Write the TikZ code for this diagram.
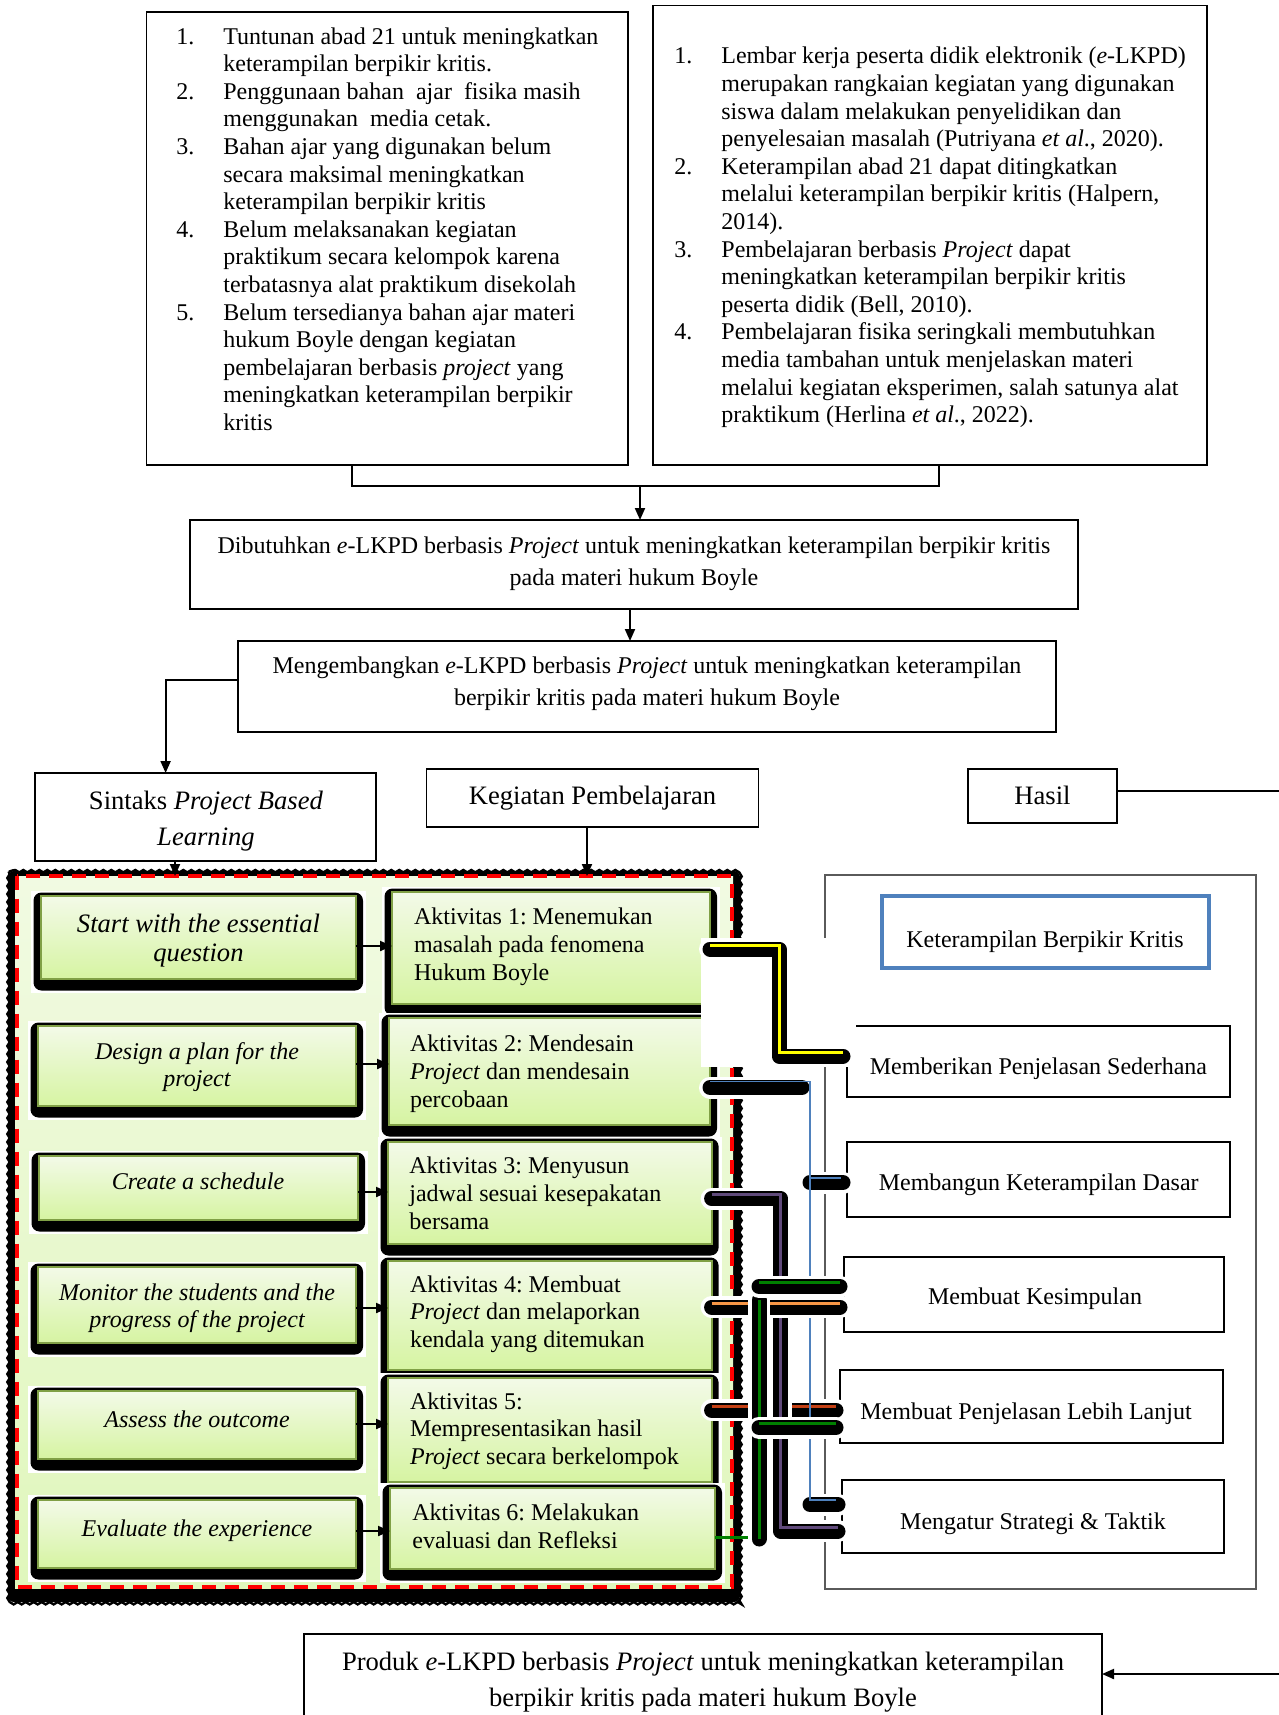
\documentclass[tikz,border=0pt]{standalone}
\usepackage{fontspec}
\setmainfont{Liberation Serif}
\usetikzlibrary{arrows.meta,decorations.pathmorphing}
\definecolor{gtop}{RGB}{243,250,232}
\definecolor{gbot}{RGB}{214,244,162}
\definecolor{gline}{RGB}{128,160,70}
\definecolor{rtop}{RGB}{241,250,226}
\definecolor{rbot}{RGB}{224,247,188}
\definecolor{kblue}{RGB}{79,129,189}
\definecolor{cyel}{RGB}{255,255,0}
\definecolor{cblue}{RGB}{79,129,189}
\definecolor{cpur}{RGB}{96,74,123}
\definecolor{cora}{RGB}{247,150,70}
\definecolor{cred}{RGB}{196,64,20}
\definecolor{cgrn}{RGB}{0,128,0}
\definecolor{hgray}{RGB}{90,90,90}

\newcommand\mkbox[6][]{\node[inner sep=0pt, outer sep=0pt, minimum width={(#5-#3)*0.5pt}, minimum height={(#6-#4)*0.5pt}, #1] (#2) at ({(#3+#5)/2},{(#4+#6)/2}) {};}
\newcommand\txl[6][]{\foreach \lntxt [count=\lnk from 0] in {#6} {\node[tx, anchor=base west, #1] (#2\lnk) at (#3,{#4+#5*\lnk}) {\lntxt};}}
\newcommand\gbox[5]{%
  \fill[white] ({#2-10},{#3-5}) rectangle ({#4+10},{#5+14});
  \fill[black, rounded corners=4pt] ({#2-7.5},{#3-3.5}) rectangle ({#4+7},{#5+11.5});
  \mkbox[gfill]{#1}{#2}{#3}{#4}{#5}}

\begin{document}
\frenchspacing
\begin{tikzpicture}[x=0.5pt,y=-0.5pt,
  tx/.style={font=\fontsize{12}{14}\selectfont, inner sep=0pt},
  tb/.style={font=\fontsize{13.3}{16}\selectfont, inner sep=0pt, anchor=base},
  ti/.style={font=\fontsize{12}{14}\selectfont\itshape, inner sep=0pt, anchor=base},
  bx/.style={draw=black, line width=0.8pt},
  arr/.style={line width=1pt, -{Triangle[length=6pt,width=5pt]}},
  ln/.style={line width=1pt},
  gfill/.style={draw=gline, line width=1pt, top color=gtop, bottom color=gbot},
  regbg/.style={top color=rtop, bottom color=rbot},
  blk/.style={line width=7.5pt, line cap=round, line join=round, draw=black, shorten >=2pt,
    preaction={draw=white, line width=11pt, line cap=round}},
  conn/.style={blk, postaction={draw=#1, line width=1.5pt, line cap=butt, line join=miter, transform canvas={yshift=1.8pt}}},
]
\clip (0,0) rectangle (1279,1715);
\fill[white] (0,0) rectangle (1279,1715);

% ---------- top boxes ----------
\mkbox[bx]{b1}{146.6}{12}{628}{465}
\mkbox[bx]{b2}{653}{5.5}{1207}{465}

\txl{tA}{223}{44}{27.6}{{Tuntunan abad 21 untuk meningkatkan},{keterampilan berpikir kritis.},{Penggunaan bahan\ \ ajar\ \ fisika masih},{menggunakan\ \ media cetak.},{Bahan ajar yang digunakan belum},{secara maksimal meningkatkan},{keterampilan berpikir kritis},{Belum melaksanakan kegiatan},{praktikum secara kelompok karena},{terbatasnya alat praktikum disekolah},{Belum tersedianya bahan ajar materi},{hukum Boyle dengan kegiatan},{pembelajaran berbasis \textit{project} yang},{meningkatkan keterampilan berpikir},{kritis}}
\node[tx, anchor=base west] (nA1) at (176,44) {1.};
\node[tx, anchor=base west] (nA2) at (176,99.2) {2.};
\node[tx, anchor=base west] (nA3) at (176,154.4) {3.};
\node[tx, anchor=base west] (nA4) at (176,237.2) {4.};
\node[tx, anchor=base west] (nA5) at (176,320) {5.};

\txl{tB}{721}{63.8}{27.6}{{Lembar kerja peserta didik elektronik (\textit{e}-LKPD)},{merupakan rangkaian kegiatan yang digunakan},{siswa dalam melakukan penyelidikan dan},{penyelesaian masalah (Putriyana \textit{et al}., 2020).},{Keterampilan abad 21 dapat ditingkatkan},{melalui keterampilan berpikir kritis (Halpern,},{2014).},{Pembelajaran berbasis \textit{Project} dapat},{meningkatkan keterampilan berpikir kritis},{peserta didik (Bell, 2010).},{Pembelajaran fisika seringkali membutuhkan},{media tambahan untuk menjelaskan materi},{melalui kegiatan eksperimen, salah satunya alat},{praktikum (Herlina \textit{et al}., 2022).}}
\node[tx, anchor=base west] (nB1) at (674,63.8) {1.};
\node[tx, anchor=base west] (nB2) at (674,174.2) {2.};
\node[tx, anchor=base west] (nB3) at (674,257) {3.};
\node[tx, anchor=base west] (nB4) at (674,339.8) {4.};

\coordinate (j1) at (352,486);
\coordinate (j2) at (939,486);
\coordinate (jm) at (640,486);
\draw[ln] (b1.south -| j1) -- (j1) -- (j2) -- (b2.south -| j2);

\mkbox[bx]{b3}{190}{520}{1078}{609}
\node[tx, anchor=base] (t3a) at (634,553) {Dibutuhkan \textit{e}-LKPD berbasis \textit{Project} untuk meningkatkan keterampilan berpikir kritis};
\node[tx, anchor=base] (t3b) at (634,585) {pada materi hukum Boyle};
\draw[arr] (jm) -- (jm |- b3.north);

\mkbox[bx]{b4}{238}{641}{1056}{732}
\node[tx, anchor=base] (t4a) at (647,673) {Mengembangkan \textit{e}-LKPD berbasis \textit{Project} untuk meningkatkan keterampilan};
\node[tx, anchor=base] (t4b) at (647,705) {berpikir kritis pada materi hukum Boyle};
\coordinate (k1) at (630,620);
\draw[arr] (b3.south -| k1) -- (k1 |- b4.north);

\mkbox[bx]{sint}{35}{773}{376}{861}
\node[tb] (ts1) at (206,809) {Sintaks \textit{Project Based}};
\node[tb] (ts2) at (206,845) {\textit{Learning}};
\coordinate (sa) at (165.6,680);
\draw[arr] (b4.west |- sa) -- (sa) -- (sa |- sint.north);

\mkbox[bx]{keg}{426.6}{769}{758.6}{827}
\node[tb] (tk) at (592.5,804) {Kegiatan Pembelajaran};
\mkbox[bx]{has}{968}{769}{1117}{823}
\node[tb] (th) at (1042.5,804) {Hasil};
\coordinate (hr) at (1279,791);
\draw[ln] (has.east |- hr) -- (hr);

% ---------- region ----------
\fill[black, rounded corners=3pt] (8,871) rectangle (740,1602);
\draw[black, line width=1.2pt, decorate, decoration={snake, amplitude=0.6pt, segment length=4pt}] (8.5,871.5) rectangle (739.5,1601.5);
\mkbox[regbg]{reg}{15}{876}{733}{1588}
\draw[red, line width=2pt, dash pattern=on 7pt off 4.5pt] (16.5,875.5) rectangle (731.5,1587);

\coordinate (sx) at (175,0);
\coordinate (kx) at (587,0);
\draw[arr] (sint.south -| sx) -- (sx |- reg.north);
\draw[arr] (keg.south -| kx) -- (kx |- reg.north);

% left syntax boxes
\gbox{L1}{41}{896}{356}{979}
\gbox{L2}{38}{1026}{356}{1106}
\gbox{L3}{39}{1156}{358}{1220}
\gbox{L4}{38}{1267}{356}{1343}
\gbox{L5}{38}{1391}{356}{1459}
\gbox{L6}{38}{1500}{356}{1568}
\node[ti, font=\fontsize{13.3}{15}\selectfont\itshape] (l1a) at (198.5,932) {Start with the essential};
\node[ti, font=\fontsize{13.3}{15}\selectfont\itshape] (l1b) at (198.5,961) {question};
\node[ti] (l2a) at (197,1059) {Design a plan for the};
\node[ti] (l2b) at (197,1086) {project};
\node[ti] (l3a) at (198,1189) {Create a schedule};
\node[ti] (l4a) at (197,1300) {Monitor the students and the};
\node[ti] (l4b) at (197,1327) {progress of the project};
\node[ti] (l5a) at (197,1427) {Assess the outcome};
\node[ti] (l6a) at (197,1536) {Evaluate the experience};

% right activity boxes
\gbox{R1}{392}{892}{710}{1004}
\gbox{R2}{389}{1018}{710}{1125}
\gbox{R3}{388}{1142}{711.6}{1244}
\gbox{R4}{388}{1261}{711.6}{1370}
\gbox{R5}{388}{1378}{711.6}{1482}
\gbox{R6}{390}{1488}{715}{1569}
\txl{rA}{413.6}{924}{28}{{Aktivitas 1: Menemukan},{masalah pada fenomena},{Hukum Boyle}}
\txl{rB}{409.6}{1051}{28}{{Aktivitas 2: Mendesain},{\textit{Project} dan mendesain},{percobaan}}
\txl{rC}{409}{1173}{28}{{Aktivitas 3: Menyusun},{jadwal sesuai kesepakatan},{bersama}}
\txl{rD}{409.6}{1292}{27.5}{{Aktivitas 4: Membuat},{\textit{Project} dan melaporkan},{kendala yang ditemukan}}
\txl{rE}{409.6}{1409}{27.5}{{Aktivitas 5:},{Mempresentasikan hasil},{\textit{Project} secara berkelompok}}
\txl{rF}{412}{1520}{28.5}{{Aktivitas 6: Melakukan},{evaluasi dan Refleksi}}

\foreach \i/\yy in {1/946,2/1064,3/1192,4/1308,5/1424,6/1531} {
  \coordinate (ay\i) at (0,\yy);
  \draw[arr] (L\i.east |- ay\i) -- (R\i.west |- ay\i);
}

% ---------- results side ----------
\mkbox[draw=hgray, line width=0.6pt]{hbig}{825}{875}{1256}{1589}
\mkbox[draw=kblue, line width=1.9pt]{kbk}{881.7}{896}{1209}{968}
\node[tx, anchor=base] (tkbk) at (1045,947) {Keterampilan Berpikir Kritis};
\mkbox[bx]{h1}{847}{1026}{1230}{1097}
\node[tx, anchor=base] (th1) at (1038.5,1074) {Memberikan Penjelasan Sederhana};
\mkbox[bx]{h2}{847}{1142}{1230}{1217}
\node[tx, anchor=base] (th2) at (1038.7,1190) {Membangun Keterampilan Dasar};
\mkbox[bx]{h3}{844}{1257}{1224}{1332}
\node[tx, anchor=base] (th3) at (1035,1304) {Membuat Kesimpulan};
\mkbox[bx]{h4}{840}{1370}{1223}{1443}
\node[tx, anchor=base] (th4) at (1026,1419) {Membuat Penjelasan Lebih Lanjut};
\mkbox[bx]{h5}{842}{1480}{1224}{1553}
\node[tx, anchor=base] (th5) at (1033,1529) {Mengatur Strategi \& Taktik};

% bottom product box
\mkbox[bx]{bot}{304}{1634}{1102}{1740}
\node[tb] (tb1) at (703,1670) {Produk \textit{e}-LKPD berbasis \textit{Project} untuk meningkatkan keterampilan};
\node[tb] (tb2) at (703,1706) {berpikir kritis pada materi hukum Boyle};
\coordinate (br) at (1279,1674);
\draw[arr] (br) -- (br -| bot.east);

% ---------- connectors ----------
\coordinate (cy1) at (0,949);
\coordinate (cy1b) at (0,1056);
\coordinate (yv) at (779,0);
\fill[white] (701,938) rectangle (856,1067);
\draw[conn=cyel] (R1.east |- cy1) -- (yv |- cy1) -- (yv |- cy1b) -- (h1.west |- cy1b);

% red
\coordinate (cy5) at (0,1410);
\draw[conn=cred] (R5.east |- cy5) -- (h4.west |- cy5);

% purple
\coordinate (cy3) at (0,1198.5);
\coordinate (cy3b) at (0,1531);
\coordinate (pv) at (780.7,0);
\draw[conn=cpur] (R3.east |- cy3) -- (pv |- cy3) -- (pv |- cy3b) -- (h5.west |- cy3b);

% blue
\coordinate (cy2) at (0,1087.5);
\coordinate (bvb) at (806,0);
\coordinate (bv) at (810,0);
\coordinate (cb2) at (0,1182.5);
\coordinate (cb5) at (0,1504.5);
\draw[blk] (R2.east |- cy2) -- (bvb |- cy2);
\draw[blk] (bv |- cb2) -- (h2.west |- cb2);
\draw[blk] (bv |- cb5) -- (h5.west |- cb5);
\coordinate (bt) at (0,1081.5);
\coordinate (bm) at (0,1178);
\coordinate (be) at (0,1500);
\draw[cblue, line width=0.9pt] (R2.east |- bt) -- (bv |- bt) -- (bv |- be) -- ([xshift=-3pt]h5.west |- be);
\draw[cblue, line width=0.9pt] (bv |- bm) -- ([xshift=-3pt]h2.west |- bm);

% orange
\coordinate (cy4) at (0,1307);
\draw[conn=cora] (R4.east |- cy4) -- (h3.west |- cy4);

% green
\coordinate (gv) at (759,0);
\coordinate (cg1) at (0,1286.5);
\coordinate (cg2) at (0,1427.5);
\coordinate (cgt) at (0,1300);
\coordinate (cgb) at (0,1539);
\coordinate (cg3) at (0,1537.5);
\draw[cgrn, line width=1.2pt] (R6.east |- cg3) -- (gv |- cg3);
\draw[blk, shorten >=0pt, postaction={draw=cgrn, line width=1.5pt, line cap=butt}] (gv |- cgt) -- (gv |- cgb);
\draw[conn=cgrn] (gv |- cg1) -- (h3.west |- cg1);
\draw[conn=cgrn] (gv |- cg2) -- (h4.west |- cg2);
\end{tikzpicture}
\end{document}
